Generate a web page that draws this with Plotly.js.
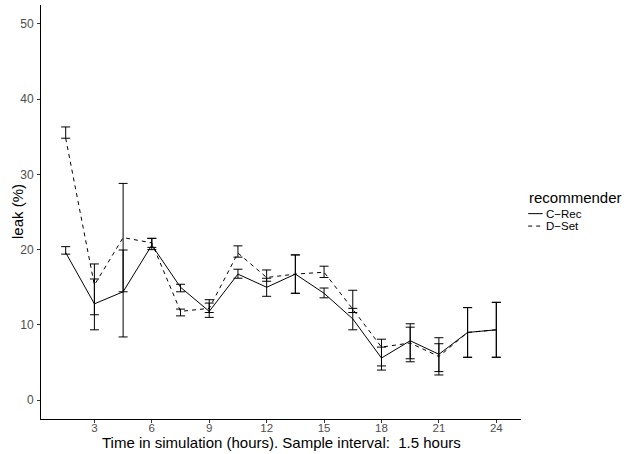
<!DOCTYPE html>
<html>
<head>
<meta charset="utf-8">
<script src="https://cdn.plot.ly/plotly-3.0.1.min.js"></script>
<style>html,body{margin:0;padding:0;background:#fff;}#chart{width:626px;height:454px;}</style>
</head>
<body>
<div id="chart"></div>
<script>
const hours = [1.5, 3, 4.5, 6, 7.5, 9, 10.5, 12, 13.5, 15, 16.5, 18, 19.5, 21, 22.5, 24];
const cRecMean = [19.6, 12.8, 14.4, 20.6, 15.0, 11.8, 16.75, 15.0, 16.75, 14.2, 10.8, 5.6, 7.9, 6.1, 9.0, 9.35];
const cRecLow  = [19.4, 9.35, 14.4, 20.0, 14.4, 11.0, 16.2, 13.8, 14.2, 13.6, 9.35, 4.0, 5.1, 3.8, 5.7, 5.7];
const cRecHigh = [20.4, 18.1, 19.95, 21.5, 15.4, 12.9, 17.4, 16.2, 19.3, 14.9, 14.6, 7.05, 10.15, 8.3, 12.3, 13.0];
const dSetMean = [34.8, 15.3, 21.6, 20.9, 11.8, 12.2, 19.55, 16.3, 16.75, 17.0, 12.1, 7.05, 7.6, 5.8, 9.0, 9.35];
const dSetLow  = [34.8, 11.35, 8.4, 20.3, 11.2, 11.65, 19.0, 15.8, 14.2, 16.3, 11.65, 4.55, 5.5, 3.35, 5.7, 5.7];
const dSetHigh = [36.3, 16.1, 28.8, 21.5, 12.1, 13.35, 20.5, 17.3, 19.3, 17.8, 12.2, 8.1, 9.7, 7.5, 12.3, 13.0];
const seriesNames = ["C\u2212Rec", "D\u2212Set"];
const xTicks = [3, 6, 9, 12, 15, 18, 21, 24];
const yTicks = [0, 10, 20, 30, 40, 50];

const FONT = "Liberation Sans, Arial, Helvetica, sans-serif";

function trace(name, mean, low, high, dash) {
  return {
    type: "scatter", mode: "lines", name: name,
    x: hours, y: mean,
    line: {color: "#000000", width: 1, dash: dash},
    error_y: {
      type: "data", symmetric: false,
      array: high.map((h, i) => h - mean[i]),
      arrayminus: low.map((l, i) => mean[i] - l),
      color: "#000000", thickness: 1, width: 4.5
    },
    showlegend: false
  };
}

const data = [
  trace(seriesNames[0], cRecMean, cRecLow, cRecHigh, "solid"),
  trace(seriesNames[1], dSetMean, dSetLow, dSetHigh, "4px,4px")
];

const layout = {
  width: 626, height: 454,
  margin: {l: 41, r: 105, t: 5, b: 35},
  paper_bgcolor: "#ffffff", plot_bgcolor: "#ffffff",
  font: {family: FONT, color: "#000000"},
  xaxis: {
    range: [0.21, 25.29], tickvals: xTicks, ticktext: xTicks.map(String),
    showgrid: false, zeroline: false, showline: true, linecolor: "#000000", linewidth: 1,
    ticks: "outside", ticklen: 3, tickcolor: "#333333", tickwidth: 1,
    ticklabelstandoff: -5,
    tickfont: {family: FONT, size: 11.5, color: "#4d4d4d"}
  },
  yaxis: {
    range: [-2.5, 52.5], tickvals: yTicks, ticktext: yTicks.map(String),
    showgrid: false, zeroline: false, showline: true, linecolor: "#000000", linewidth: 1,
    ticks: "outside", ticklen: 3, tickcolor: "#333333", tickwidth: 1,
    ticklabelstandoff: 1,
    tickfont: {family: FONT, size: 12, color: "#4d4d4d"}
  },
  shapes: [
    {type: "line", xref: "paper", yref: "paper", x0: 1.015, x1: 1.045, y0: 0.496, y1: 0.496, line: {color: "#000000", width: 1}},
    {type: "line", xref: "paper", yref: "paper", x0: 1.015, x1: 1.045, y0: 0.466, y1: 0.466, line: {color: "#000000", width: 1, dash: "4px,4px"}}
  ],
  annotations: [
    {xref: "paper", yref: "paper", x: 0.5, y: -0.056, xanchor: "center", yanchor: "middle", showarrow: false,
     text: "Time in simulation (hours). Sample interval:  1.5 hours", font: {family: FONT, size: 15, color: "#000000"}},
    {xref: "paper", yref: "paper", x: -0.05, y: 0.5, xanchor: "center", yanchor: "middle", showarrow: false, textangle: -90,
     text: "leak (%)", font: {family: FONT, size: 15, color: "#000000"}},
    {xref: "paper", yref: "paper", x: 1.013, y: 0.535, xanchor: "left", yanchor: "middle", showarrow: false, text: "recommender", font: {family: FONT, size: 15, color: "#000000"}},
    {xref: "paper", yref: "paper", x: 1.048, y: 0.496, xanchor: "left", yanchor: "middle", showarrow: false, text: seriesNames[0], font: {family: FONT, size: 11.5, color: "#000000"}},
    {xref: "paper", yref: "paper", x: 1.048, y: 0.466, xanchor: "left", yanchor: "middle", showarrow: false, text: seriesNames[1], font: {family: FONT, size: 11.5, color: "#000000"}}
  ]
};

Plotly.newPlot("chart", data, layout, {displayModeBar: false, staticPlot: true});
</script>
</body>
</html>
